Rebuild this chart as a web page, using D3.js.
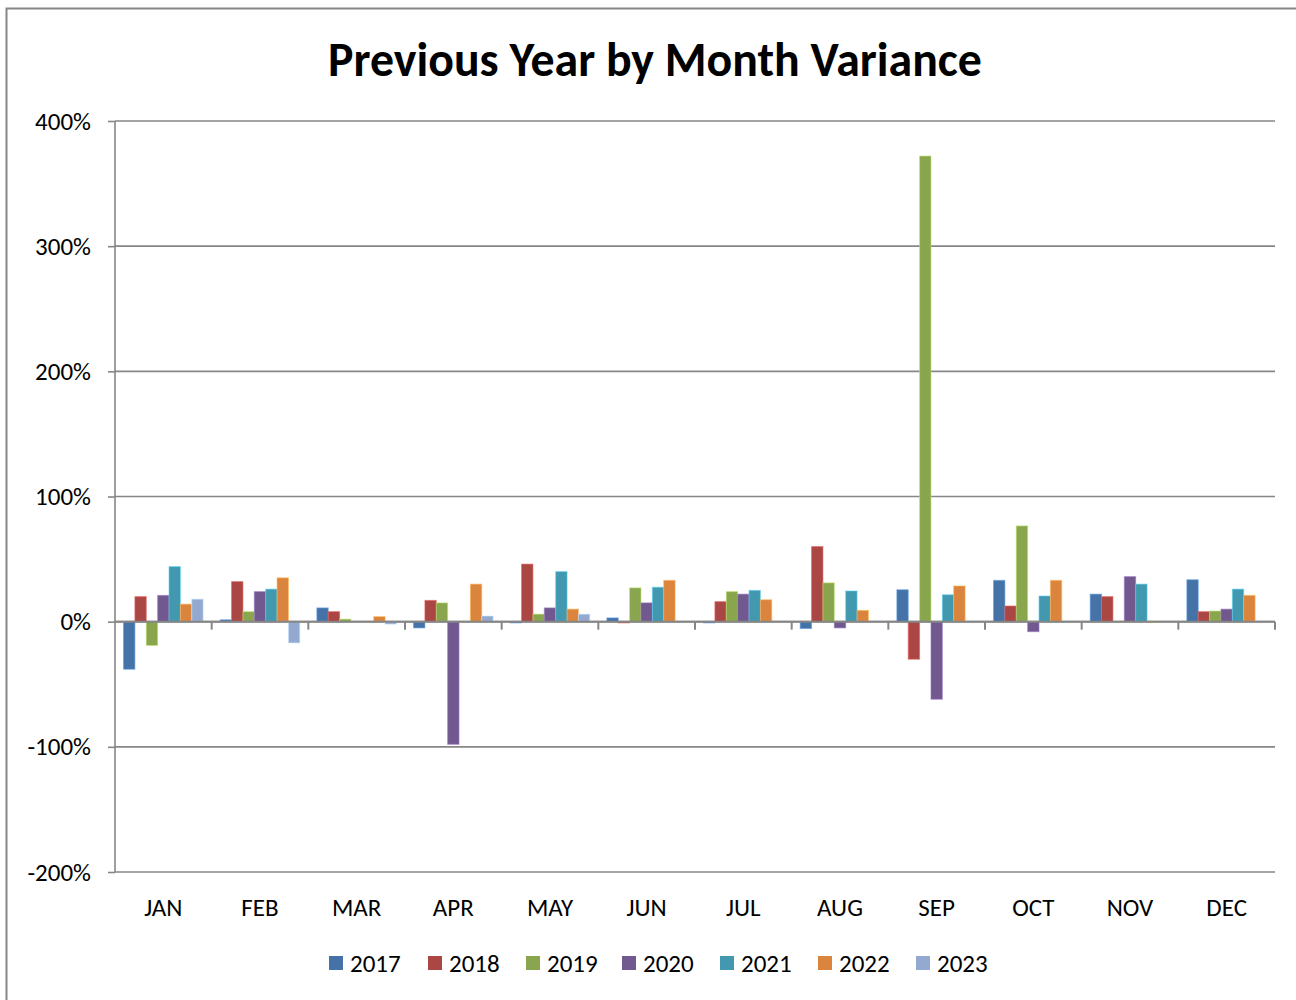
<!DOCTYPE html>
<html>
<head>
<meta charset="utf-8">
<script src="https://cdn.jsdelivr.net/npm/d3@7"></script>
<style>
html,body{margin:0;padding:0;background:#fff;}
svg{display:block;}
text{font-family:Carlito,Lato,"Liberation Sans",sans-serif;fill:#000;}
</style>
</head>
<body>
<svg id="chart" width="1296" height="1000"></svg>
<script>
const months = ["JAN","FEB","MAR","APR","MAY","JUN","JUL","AUG","SEP","OCT","NOV","DEC"];
const years = ["2017","2018","2019","2020","2021","2022","2023"];
const colors = ["#4572A7","#AA4643","#89A54E","#71588F","#4198AF","#DB843D","#93A9CF"];
const yTicks = [-200,-100,0,100,200,300,400];
// values in percent, one array per year, by month
const v2017 = [-38, 1.5, 11, -5, -1, 3, -1, -5.5, 25.5, 33, 22, 33.5];
const v2018 = [20, 32, 8, 17, 46, -1, 16, 60, -30, 12.5, 20, 8];
const v2019 = [-19, 8, 2, 15, 6, 27, 24, 31, 372, 76.5, 0, 8.5];
const v2020 = [21, 24, 0, -98, 11, 15, 22, -5, -62, -8, 36, 10];
const v2021 = [44, 26, 0, 0, 40, 27.5, 25, 24.5, 21.5, 20.5, 30, 26];
const v2022 = [14, 35, 4, 30, 10, 33, 17.5, 9, 28.5, 33, -0.5, 21];
const v2023 = [18, -17, -2, 4.5, 6, 0, 0, 0, 0, 0, 0, 0];
const series = [v2017, v2018, v2019, v2020, v2021, v2022, v2023];

const svg = d3.select("#chart");
const L = 115, R = 1275, T = 121, B = 872;
const FS = 25;

// chart border
svg.append("rect").attr("x",6.5).attr("y",8.5).attr("width",1310).attr("height",1010)
  .attr("fill","#fff").attr("stroke","#868686").attr("stroke-width",2);

const x = d3.scaleBand().domain(months).range([L,R]).paddingInner(0).paddingOuter(0);
const xs = d3.scaleBand().domain(years).range([0,x.bandwidth()]).paddingInner(0).paddingOuter(0.75);
const y = d3.scaleLinear().domain([-200,400]).range([B,T]);

// gridlines
svg.append("g").selectAll("line").data(yTicks).join("line")
  .attr("x1",L).attr("x2",R).attr("y1",d=>y(d)).attr("y2",d=>y(d))
  .attr("stroke","#868686").attr("stroke-width",1.6);

// y axis
const yAxis = d3.axisLeft(y).tickValues(yTicks).tickSize(7).tickPadding(17).tickFormat(d=>d+"%");
const gy = svg.append("g").attr("transform",`translate(${L},0)`).call(yAxis);
gy.select(".domain").attr("stroke","#868686").attr("stroke-width",1.6).attr("d",`M0,${T}V${B}`);
gy.selectAll(".tick line").attr("stroke","#868686").attr("stroke-width",1.6);
gy.selectAll(".tick text").attr("font-size",FS).attr("font-family","Carlito,Lato,sans-serif").attr("fill","#000");

// bars
const data = [];
months.forEach((m,i)=>years.forEach((yr,j)=>data.push({m,yr,v:series[j][i],c:colors[j]})));
svg.append("g").selectAll("rect").data(data.filter(d=>d.v!==0)).join("rect")
  .attr("x",d=>x(d.m)+xs(d.yr))
  .attr("width",xs.bandwidth())
  .attr("y",d=>y(Math.max(0,d.v)))
  .attr("height",d=>Math.abs(y(d.v)-y(0)))
  .attr("fill",d=>d.c)
  .attr("stroke",d=>d3.color(d.c).brighter(0.9))
  .attr("stroke-opacity",0.6)
  .attr("stroke-width",1);

// x axis at zero
const boundaries = months.map(m=>x(m)).concat([R]);
const gx = svg.append("g");
gx.append("line").attr("x1",L).attr("x2",R).attr("y1",y(0)).attr("y2",y(0))
  .attr("stroke","#868686").attr("stroke-width",2);
gx.selectAll("line.tk").data(boundaries.slice(1)).join("line").attr("class","tk")
  .attr("x1",d=>d).attr("x2",d=>d).attr("y1",y(0)).attr("y2",y(0)+8)
  .attr("stroke","#868686").attr("stroke-width",2);
svg.append("g").selectAll("text").data(months).join("text")
  .attr("x",d=>x(d)+x.bandwidth()/2).attr("y",916)
  .attr("text-anchor","middle").attr("font-size",FS).text(d=>d);

// title
const title = svg.append("text").attr("x",655).attr("y",76).attr("text-anchor","middle")
  .attr("font-weight","bold").attr("font-size",40).text("Previous Year by Month Variance");
const tw = title.node().getComputedTextLength();
title.attr("font-size",40*654/tw);

// legend
const legX = [329,428,526,622,720,818,916];
const lg = svg.append("g").selectAll("g").data(years).join("g")
  .attr("transform",(d,i)=>`translate(${legX[i]},956)`);
lg.append("rect").attr("width",14).attr("height",14).attr("fill",(d,i)=>colors[i]);
lg.append("text").attr("x",21).attr("y",16).attr("font-size",FS).text(d=>d);
</script>
</body>
</html>
